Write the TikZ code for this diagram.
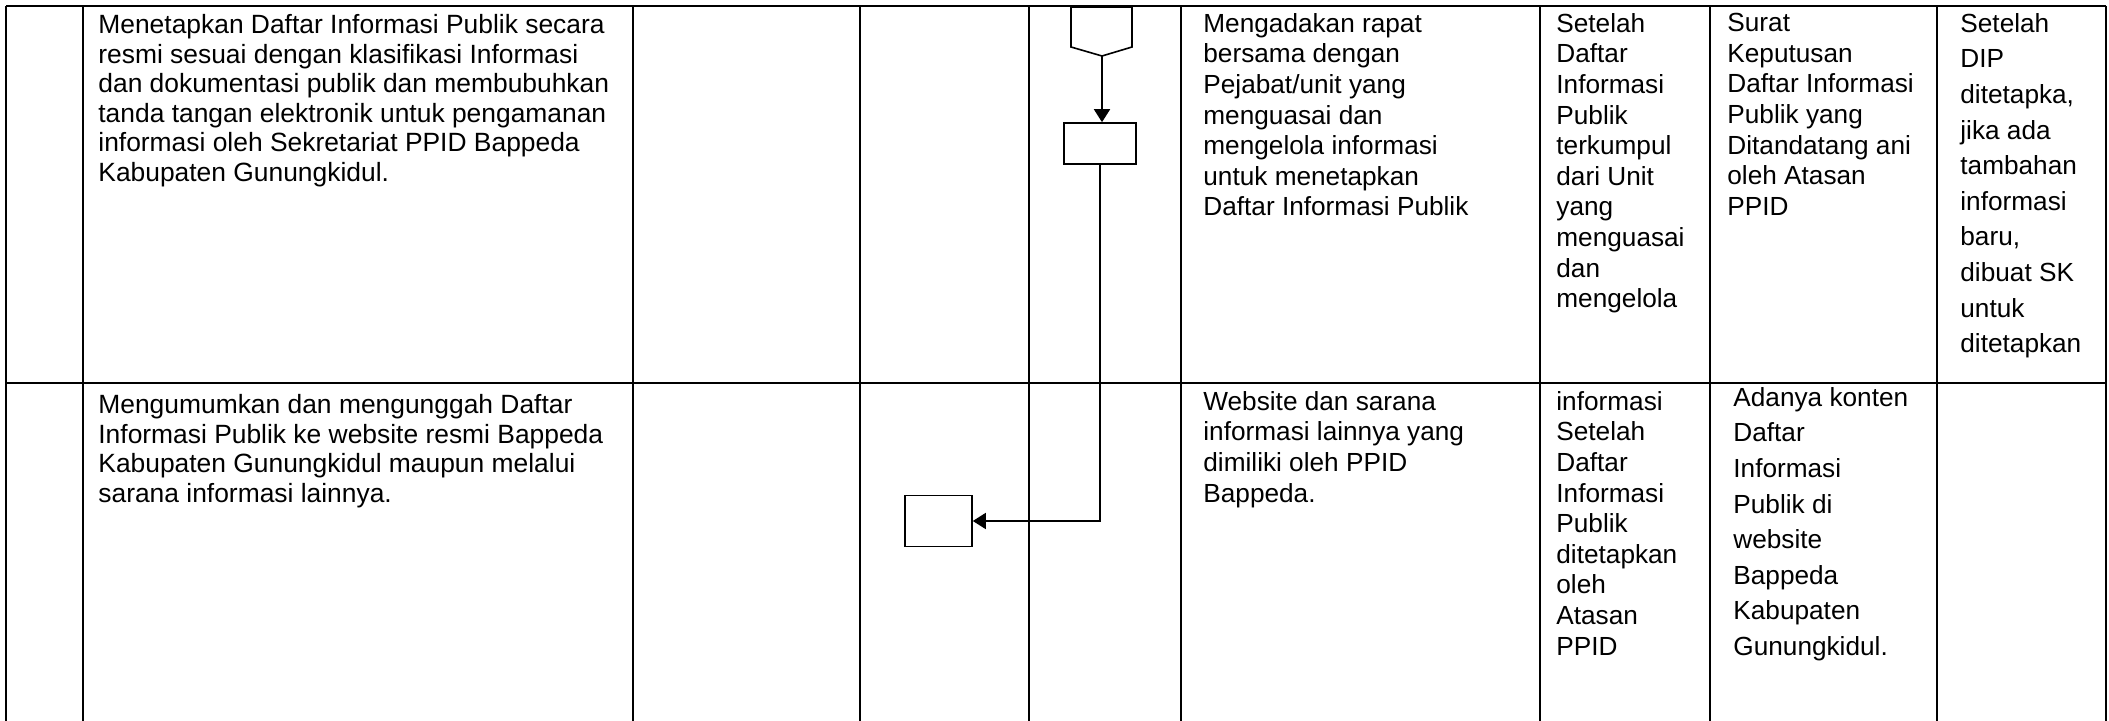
\documentclass[tikz,border=0pt]{standalone}
\usepackage{fontspec}
\setmainfont{Liberation Sans}
\usetikzlibrary{arrows.meta}
\begin{document}
\begin{tikzpicture}[x=0.5pt,y=-0.5pt,
  grid/.style={line width=1.1pt},
  shp/.style={draw, line width=0.8pt, inner sep=0pt},
  flow/.style={line width=0.9pt, -{Triangle[length=6.5pt,width=8pt]}},
  txt/.style={anchor=north west, inner sep=0pt, align=left, font=\fontsize{13.1}{15.3}\selectfont},
  txtA/.style={txt, font=\fontsize{13.2}{14.8}\selectfont},
  txtW/.style={txt, font=\fontsize{13.1}{17.8}\selectfont},
]
\useasboundingbox (0,0) rectangle (2109,721);
% table grid
\draw[grid] (6,6) -- (2106,6);
\draw[grid] (6,383) -- (2106,383);
\foreach \x in {6,83,633,860,1029,1181,1540,1710,1937,2106} \draw[grid] (\x,6) -- (\x,721);

% flow shapes
\draw[line width=0.8pt] (1071,7) -- (1132,7) -- (1132,47) -- (1102,56) -- (1071,47) -- cycle;
\coordinate (offp) at (1102,56);
\node[shp, minimum width=36pt, minimum height=20.5pt] (r1) at (1100,143.5) {};
\node[shp, minimum width=33.5pt, minimum height=25.5pt] (r2) at (938.5,521) {};
\draw[flow] (offp) -- (offp |- r1.north);
\draw[flow] (r1.south) |- (r2.east);

% row 1 texts
\node[txtA] (a1) at (98,14) {Menetapkan Daftar Informasi Publik secara\\resmi sesuai dengan klasifikasi Informasi\\dan dokumentasi publik dan membubuhkan\\tanda tangan elektronik untuk pengamanan\\informasi oleh Sekretariat PPID Bappeda\\Kabupaten Gunungkidul.};
\node[txt] (e1) at (1203,13) {Mengadakan rapat\\bersama dengan\\Pejabat/unit yang\\menguasai dan\\mengelola informasi\\untuk menetapkan\\Daftar Informasi Publik};
\node[txt] (f1) at (1556,13) {Setelah\\Daftar\\Informasi\\Publik\\terkumpul\\dari Unit\\yang\\menguasai\\dan\\mengelola};
\node[txt] (g1) at (1727,13) {Surat\\Keputusan\\Daftar Informasi\\Publik yang\\Ditandatang ani\\oleh Atasan\\PPID};
\node[txtW] (h1) at (1960,13) {Setelah\\DIP\\ditetapka,\\jika ada\\tambahan\\informasi\\baru,\\dibuat SK\\untuk\\ditetapkan};

% row 2 texts
\node[txtA] (a2) at (98,394) {Mengumumkan dan mengunggah Daftar\\Informasi Publik ke website resmi Bappeda\\Kabupaten Gunungkidul maupun melalui\\sarana informasi lainnya.};
\node[txt] (e2) at (1203,391) {Website dan sarana\\informasi lainnya yang\\dimiliki oleh PPID\\Bappeda.};
\node[txt] (f2) at (1556,391) {informasi\\Setelah\\Daftar\\Informasi\\Publik\\ditetapkan\\oleh\\Atasan\\PPID};
\node[txtW] (g2) at (1733,387) {Adanya konten\\Daftar\\Informasi\\Publik di\\website\\Bappeda\\Kabupaten\\Gunungkidul.};
\end{tikzpicture}
\end{document}
